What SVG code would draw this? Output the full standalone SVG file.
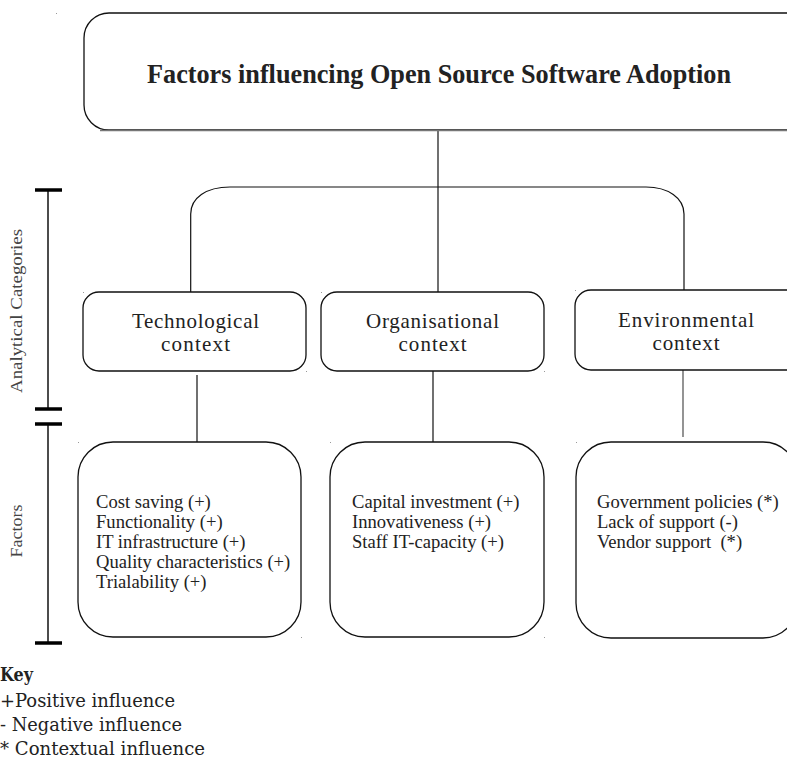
<svg xmlns="http://www.w3.org/2000/svg" width="787" height="760" viewBox="0 0 787 760">
<style>
.box{fill:#fff;stroke:#111;stroke-width:1.3}
.ln{fill:none;stroke:#111;stroke-width:1.2}
.cap{stroke:#000;stroke-width:3.5}
.serif{font-family:"Liberation Serif","Times New Roman",serif;fill:#222}
.ctx{font-size:21px;text-anchor:middle}
.fac{font-size:18.6px;white-space:pre}
.side{font-size:17px;fill:#444;text-anchor:middle}
.key{font-family:"DejaVu Serif","Liberation Serif",serif;font-size:18px;fill:#222;white-space:pre}
.dot{fill:#999}
</style>
<rect width="787" height="760" fill="#fff"/>

<g id="scale">
<line class="ln" x1="48" y1="190" x2="48" y2="409" style="stroke-width:1.5"/>
<line class="ln" x1="48" y1="424" x2="48" y2="643" style="stroke-width:1.5"/>
<line class="cap" x1="35" y1="190" x2="62" y2="190"/>
<line class="cap" x1="35" y1="409" x2="62" y2="409"/>
<line class="cap" x1="35" y1="424" x2="62" y2="424"/>
<line class="cap" x1="35" y1="643" x2="62" y2="643"/>
<text class="serif side" transform="translate(22,311) rotate(-90)" textLength="164" lengthAdjust="spacingAndGlyphs">Analytical Categories</text>
<text class="serif side" transform="translate(22,531) rotate(-90)" textLength="53" lengthAdjust="spacingAndGlyphs">Factors</text>
</g>

<g id="connectors">
<line class="ln" x1="438" y1="130" x2="438" y2="292"/>
<path class="ln" d="M190.7,292 V214 C190.7,198 206,187 230,187 H646 C668,187 684,198 684,214 V290"/>
<line class="ln" x1="197" y1="375" x2="197" y2="442"/>
<line class="ln" x1="433" y1="371" x2="433" y2="442"/>
<line class="ln" x1="683" y1="370" x2="683" y2="437" style="stroke:#666;stroke-width:1.4"/>
</g>

<g id="title">
<rect class="box" x="84" y="13" width="730" height="117" rx="25" ry="25"/>
<line x1="100" y1="130.5" x2="787" y2="130.5" stroke="#777" stroke-width="1.5"/>
<text class="serif" x="147" y="83" font-size="28" font-weight="bold" fill="#111" textLength="584" lengthAdjust="spacingAndGlyphs">Factors influencing Open Source Software Adoption</text>
</g>

<g id="tech-context">
<rect class="box" x="83" y="292" width="223" height="79" rx="16" ry="16"/>
<text class="serif ctx" x="195.5" y="328" textLength="127">Technological</text>
<text class="serif ctx" x="195.5" y="351" textLength="69">context</text>
</g>

<g id="org-context">
<rect class="box" x="321" y="292" width="223" height="79" rx="16" ry="16"/>
<text class="serif ctx" x="432.5" y="328" textLength="133">Organisational</text>
<text class="serif ctx" x="432.5" y="351" textLength="68">context</text>
</g>

<g id="env-context">
<rect class="box" x="575" y="290" width="235" height="80" rx="16" ry="16"/>
<text class="serif ctx" x="686" y="327" textLength="136">Environmental</text>
<text class="serif ctx" x="686" y="350" textLength="67">context</text>
</g>

<g id="tech-factors">
<rect class="box" x="78" y="442" width="223" height="195" rx="35" ry="35"/>
<text class="serif fac" x="96" y="508">Cost saving (+)</text>
<text class="serif fac" x="96" y="528">Functionality (+)</text>
<text class="serif fac" x="96" y="548">IT infrastructure (+)</text>
<text class="serif fac" x="96" y="568">Quality characteristics (+)</text>
<text class="serif fac" x="96" y="588">Trialability (+)</text>
</g>

<g id="org-factors">
<rect class="box" x="330" y="442" width="214" height="195" rx="35" ry="35"/>
<text class="serif fac" x="352" y="508">Capital investment (+)</text>
<text class="serif fac" x="352" y="528">Innovativeness (+)</text>
<text class="serif fac" x="352" y="548">Staff IT-capacity (+)</text>
</g>

<g id="env-factors">
<rect class="box" x="576" y="442" width="222" height="196" rx="35" ry="35"/>
<text class="serif fac" x="597" y="508">Government policies (*)</text>
<text class="serif fac" x="597" y="528">Lack of support (-)</text>
<text class="serif fac" x="597" y="548">Vendor support  (*)</text>
</g>

<g id="dots">
<rect class="dot" x="56" y="13" width="1" height="1"/>
<rect class="dot" x="83" y="292" width="1" height="1"/>
<rect class="dot" x="306" y="371" width="1" height="1"/>
<rect class="dot" x="321" y="292" width="1" height="1"/>
<rect class="dot" x="544" y="371" width="1" height="1"/>
<rect class="dot" x="575" y="290" width="1" height="1"/>
<rect class="dot" x="78" y="442" width="1" height="1"/>
<rect class="dot" x="301" y="637" width="1" height="1"/>
<rect class="dot" x="330" y="442" width="1" height="1"/>
<rect class="dot" x="544" y="637" width="1" height="1"/>
<rect class="dot" x="576" y="442" width="1" height="1"/>
</g>

<g id="key">
<text class="key" x="0" y="681" font-weight="bold" textLength="33" lengthAdjust="spacingAndGlyphs">Key</text>
<text class="key" x="0" y="707" textLength="175" lengthAdjust="spacingAndGlyphs">+Positive influence</text>
<text class="key" x="0" y="731" textLength="182" lengthAdjust="spacingAndGlyphs">- Negative influence</text>
<text class="key" x="0" y="755" textLength="205" lengthAdjust="spacingAndGlyphs">* Contextual influence</text>
</g>
</svg>
